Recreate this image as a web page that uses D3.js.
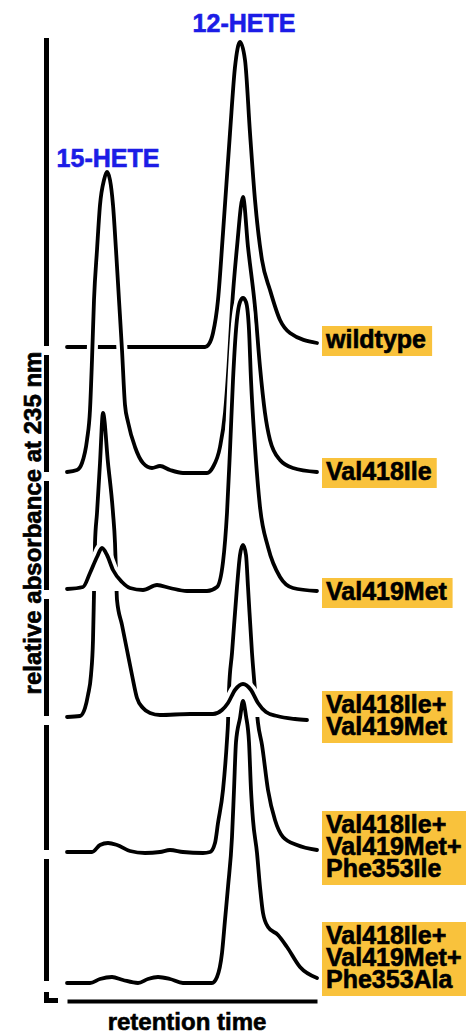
<!DOCTYPE html>
<html>
<head>
<meta charset="utf-8">
<script src="https://cdn.jsdelivr.net/npm/d3@7"></script>
<style>
  body { margin: 0; background: #fff; }
  text { font-family: "Liberation Sans", Arial, sans-serif; font-weight: bold; }
</style>
</head>
<body>
<script>
// ---- data: retention time (a.u.) vs absorbance at 235 nm (a.u., relative to each trace's baseline)
var traceLabels = [
  ["wildtype"],
  ["Val418Ile"],
  ["Val419Met"],
  ["Val418Ile+", "Val419Met"],
  ["Val418Ile+", "Val419Met+", "Phe353Ile"],
  ["Val418Ile+", "Val419Met+", "Phe353Ala"]
];

// vertical offset of each trace (stacked chromatograms)
var baselines = [653, 527, 409, 283, 149, 18];

var wildtype = [[0,0],[13.8,0],[14.2,3],[14.6,14],[15.1,47],[15.6,114],[16.3,214],[16.8,280],[17.3,305],
  [17.8,287],[18.3,214],[18.8,147],[19.5,87],[20.3,57],[21.3,27],[22.3,14],[25,4]];

var val418ile = [[0,1],[1.0,3],[1.5,10],[2.0,33],[2.3,63],[2.5,113],[2.7,173],[3.0,223],[3.3,268],[3.7,293],
  [4.0,301],[4.3,293],[4.6,268],[4.9,223],[5.2,173],[5.5,123],[5.8,68],[6.1,51],[6.8,26],[7.6,10],[8.5,5],
  [9.3,7],[10.3,3],[11.6,0],[14.0,0],[14.6,6],[15.3,26],[15.8,60],[16.15,106],[16.5,166],[17.0,226],[17.6,276],
  [18.1,226],[18.8,166],[19.3,106],[19.8,60],[20.3,33],[21.3,13],[22.6,5],[25,1]];

var val419met = [[0,2],[1.6,4],[2.3,18],[3.0,34],[3.5,43],[4.0,36],[4.6,21],[5.5,9],[6.3,3],[7.6,1],[9.0,6],
  [10.3,3],[12.0,0],[14.0,0],[15.0,4],[15.6,29],[16.0,78],[16.3,141],[16.6,211],[16.9,261],[17.3,289],
  [17.6,293],[17.9,289],[18.2,261],[18.4,211],[18.8,144],[19.3,84],[20.1,44],[21.3,14],[22.6,3],[25,0]];

var doubleMutant = [[0,0],[1.3,1],[1.8,9],[2.1,22],[2.4,42],[2.6,77],[2.7,124],[2.8,174],[3.0,204],[3.3,254],
  [3.6,304],[4.1,254],[4.6,204],[4.8,174],[4.9,145],[5.0,117],[5.5,92],[6.0,67],[6.5,42],[7.0,19],[7.6,9],
  [8.3,4],[9.3,2],[12.3,3],[14.6,3],[15.5,7],[16.1,14],[16.8,27],[17.6,33],[18.4,27],[19.1,14],[19.9,5],
  [21.0,1],[22.8,-2],[24.0,-3]];

var tripleIle = [[0,-1],[2.5,-1],[3.3,6],[4.1,8],[5.0,6],[6.3,0],[7.8,-2],[9.3,-1],[10.3,1],[11.6,-1],
  [13.6,-2],[14.3,-1],[14.8,8],[15.1,28],[15.6,61],[16.0,111],[16.1,128],[16.2,161],[16.5,198],[17.0,264],
  [17.3,296],[17.6,306],[17.9,296],[18.1,264],[18.5,198],[18.8,161],[19.1,128],[19.5,106],[20.1,61],
  [20.8,31],[21.6,14],[23.0,6],[25,1]];

var tripleAla = [[0,-1],[2.3,-1],[3.3,3],[4.5,5],[5.6,2],[7.1,-1],[8.1,3],[9.1,5],[10.3,3],[11.6,-1],
  [14.5,-1],[15.0,5],[15.5,29],[15.8,62],[16.1,95],[16.5,145],[16.7,192],[16.9,240],[17.3,264],[17.6,281],
  [17.9,266],[18.2,240],[18.4,192],[18.6,162],[19.0,129],[19.3,95],[19.6,69],[20.1,55],[21.1,47],
  [22.0,35],[23.3,15],[25,4]];

var traces = [wildtype, val418ile, val419met, doubleMutant, tripleIle, tripleAla];

// peak annotations: [name, trace index, retention time of apex]
var peakNames = [["15-HETE", 1, 4.0], ["12-HETE", 0, 17.3]];

// ---- layout / drawing options
var width = 466, height = 1035;
var drawOrder = [0, 1, 4, 3, 2, 5];                    // which trace covers which
var masks = [null, null, [0, 12], [12, 25], null, null]; // parts whose area hides traces behind
var labelShift = [1, 7, 9, 7, 4, -16];
var peakShift = [[1, -5], [4, -10]];
var lineGap = 22;

var x = d3.scaleLinear().domain([0, 25]).range([67, 317]);
var y = d3.scaleLinear().domain([0, 970]).range([1000, 30]);

var svg = d3.select("body").append("svg")
    .attr("width", width)
    .attr("height", height);

// bold look of the original lettering
function heavy(sel, colour) {
  sel.attr("fill", colour).attr("stroke", colour).attr("stroke-width", 0.6)
}

// ---- y axis, broken at every baseline
var tops = [962].concat(baselines.slice(0, -1));
var axisG = svg.append("g").attr("class", "y-axis");
baselines.forEach(function(b, i) {
  var y1 = i == 0 ? y(tops[i]) : y(tops[i]) + 8;
  axisG.append("line")
      .attr("x1", 46.5).attr("x2", 46.5)
      .attr("y1", y1).attr("y2", y(b) - 1)
      .attr("stroke", "#000").attr("stroke-width", 5);
});
// little corner piece
axisG.append("path")
    .attr("d", "M46.5," + (y(baselines[5]) + 10) + "V" + (y(0) + 0.5) + "H58")
    .attr("fill", "none").attr("stroke", "#000").attr("stroke-width", 5);

// ---- x axis (no ticks)
var xAxis = svg.append("g")
    .attr("transform", "translate(0," + (y(0) + 1) + ")")
    .call(d3.axisBottom(x).tickValues([]).tickSizeOuter(0));
xAxis.select(".domain").attr("stroke", "#000").attr("stroke-width", 4);

svg.append("text")
    .attr("x", 187).attr("y", 1030)
    .attr("text-anchor", "middle")
    .style("font-size", "24px")
    .text("retention time")
    .call(heavy, "#000");

svg.append("text")
    .attr("transform", "translate(41,523) rotate(-90)")
    .attr("text-anchor", "middle")
    .style("font-size", "24px")
    .text("relative absorbance at 235 nm")
    .call(heavy, "#000");

// ---- traces
var traceG = svg.append("g").attr("class", "traces");
drawOrder.forEach(function(i) {
  var off = baselines[i];
  var line = d3.line()
      .x(function(d) { return x(d[0]); })
      .y(function(d) { return y(off + d[1]); })
      .curve(d3.curveMonotoneX);

  var g = traceG.append("g");
  if (masks[i]) {
    var r = masks[i];
    var area = d3.area()
        .defined(function(d) { return d[0] >= r[0] && d[0] <= r[1]; })
        .x(function(d) { return x(d[0]); })
        .y0(y(off))
        .y1(function(d) { return y(off + d[1]); })
        .curve(d3.curveMonotoneX);
    g.append("path").attr("d", area(traces[i])).attr("fill", "#fff");
  }
  // white halo so crossing traces look cut
  g.append("path")
      .attr("d", line(traces[i]))
      .attr("fill", "none")
      .attr("stroke", "#fff")
      .attr("stroke-width", 11)
      .attr("stroke-linecap", "round");
  g.append("path")
      .attr("d", line(traces[i]))
      .attr("fill", "none")
      .attr("stroke", "#000")
      .attr("stroke-width", 3.8)
      .attr("stroke-linejoin", "round")
      .attr("stroke-linecap", "round");
});

// ---- peak names
peakNames.forEach(function(p, k) {
  var apex = traces[p[1]].find(function(d) { return d[0] == p[2]; });
  svg.append("text")
      .attr("x", x(p[2]) + peakShift[k][0])
      .attr("y", y(baselines[p[1]] + apex[1]) + peakShift[k][1])
      .attr("text-anchor", "middle")
      .style("font-size", "25px")
      .text(p[0])
      .call(heavy, "#1c1ce6");
});

// ---- trace labels on orange boxes
traceLabels.forEach(function(lines, i) {
  var n = lines.length;
  var first = y(baselines[i]) + labelShift[i] - (n - 1) * lineGap / 2;
  var g = svg.append("g");
  var rect = g.append("rect").attr("fill", "#f9c23c");
  var t = g.append("text").style("font-size", "25px").call(heavy, "#000");
  lines.forEach(function(s, k) {
    t.append("tspan").attr("x", 326).attr("y", first + k * lineGap).text(s);
  });
  var w = t.node().getBBox().width;
  rect.attr("x", 322).attr("y", first - 22)
      .attr("width", w + 9)
      .attr("height", (n - 1) * lineGap + 30);
});
</script>
</body>
</html>
